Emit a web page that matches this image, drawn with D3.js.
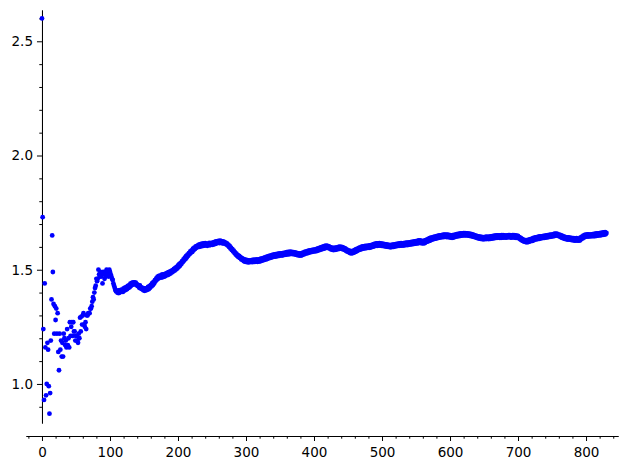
<!DOCTYPE html>
<html>
<head>
<meta charset="utf-8">
<script src="https://cdn.jsdelivr.net/npm/d3@7"></script>
<style>
    body { margin: 0; background: #fff; }
    text { font-family: "DejaVu Sans", sans-serif; }
</style>
</head>
<body>
<div></div>
<script>
// one value per step (step = array index)
var values = [
    2.60,1.73,1.24,0.93,1.44,1.16,0.95,1.00,1.18,1.15,
    0.99,0.87,0.96,1.19,1.37,1.65,1.49,1.35,1.22,1.34,
    1.28,1.33,1.22,1.31,1.14,1.06,1.22,1.15,1.19,1.12,
    1.18,1.12,1.22,1.20,1.17,1.19,1.16,1.24,1.17,1.20,
    1.16,1.27,1.21,1.25,1.27,1.21,1.27,1.23,1.23,1.19,
    1.21,1.21,1.19,1.18,1.22,1.20,1.29,1.23,1.295,1.26,
    1.30,1.31,1.26,1.25,1.27,1.24,1.30,1.30,1.31,1.31,
    1.31,1.33,1.33,1.34,1.36,1.38,1.37,1.40,1.42,1.43,
    1.46,1.45,1.46,1.50,1.48,1.47,1.49,1.47,1.48,1.44,
    1.49,1.48,1.46,1.49,1.47,1.50,1.48,1.49,1.47,1.50,
    1.49,1.48,1.47,1.46,1.455,1.44,1.43,1.42,1.41,1.405,
    1.407,1.399,1.409,1.398,1.410,1.401,1.412,1.404,1.413,1.403,
    1.418,1.409,1.421,1.411,1.424,1.415,1.429,1.420,1.431,1.423,
    1.439,1.430,1.442,1.434,1.445,1.436,1.444,1.437,1.443,1.432,
    1.436,1.428,1.432,1.421,1.431,1.418,1.423,1.415,1.420,1.410,
    1.418,1.408,1.417,1.410,1.419,1.412,1.425,1.415,1.428,1.421,
    1.434,1.427,1.441,1.432,1.447,1.440,1.454,1.449,1.462,1.456,
    1.470,1.461,1.473,1.465,1.474,1.466,1.478,1.467,1.479,1.469,
    1.481,1.471,1.483,1.476,1.486,1.477,1.489,1.480,1.492,1.483,
    1.495,1.488,1.498,1.492,1.504,1.496,1.508,1.501,1.512,1.505,
    1.519,1.512,1.526,1.517,1.530,1.525,1.538,1.533,1.545,1.540,
    1.553,1.546,1.560,1.554,1.566,1.561,1.573,1.568,1.580,1.574,
    1.585,1.578,1.592,1.585,1.597,1.591,1.602,1.596,1.604,1.599,
    1.609,1.600,1.611,1.602,1.613,1.603,1.614,1.605,1.615,1.606,
    1.616,1.607,1.613,1.605,1.614,1.608,1.617,1.607,1.616,1.610,
    1.617,1.609,1.620,1.611,1.622,1.613,1.624,1.616,1.625,1.618,
    1.626,1.617,1.627,1.618,1.625,1.616,1.624,1.615,1.622,1.614,
    1.618,1.610,1.615,1.606,1.610,1.600,1.604,1.593,1.597,1.586,
    1.590,1.580,1.584,1.573,1.576,1.566,1.570,1.560,1.564,1.555,
    1.560,1.551,1.555,1.545,1.551,1.542,1.547,1.537,1.545,1.535,
    1.543,1.534,1.542,1.532,1.541,1.533,1.540,1.534,1.542,1.533,
    1.543,1.535,1.544,1.534,1.543,1.536,1.545,1.535,1.544,1.536,
    1.546,1.537,1.548,1.539,1.550,1.541,1.552,1.543,1.554,1.545,
    1.556,1.547,1.558,1.550,1.560,1.551,1.562,1.553,1.564,1.555,
    1.566,1.557,1.567,1.558,1.568,1.559,1.569,1.560,1.570,1.561,
    1.571,1.563,1.572,1.562,1.573,1.564,1.574,1.565,1.575,1.566,
    1.577,1.568,1.578,1.567,1.578,1.569,1.579,1.569,1.577,1.568,
    1.577,1.568,1.576,1.566,1.574,1.564,1.573,1.563,1.572,1.562,
    1.570,1.562,1.573,1.564,1.575,1.567,1.578,1.570,1.579,1.572,
    1.581,1.573,1.583,1.575,1.585,1.577,1.586,1.578,1.587,1.580,
    1.588,1.580,1.589,1.581,1.591,1.583,1.593,1.585,1.595,1.587,
    1.598,1.589,1.600,1.591,1.602,1.593,1.604,1.595,1.605,1.596,
    1.604,1.595,1.602,1.593,1.599,1.589,1.597,1.587,1.595,1.586,
    1.595,1.587,1.597,1.588,1.598,1.590,1.600,1.591,1.601,1.592,
    1.600,1.591,1.599,1.589,1.596,1.586,1.593,1.583,1.589,1.579,
    1.585,1.576,1.583,1.573,1.581,1.572,1.581,1.573,1.583,1.575,
    1.587,1.578,1.590,1.581,1.592,1.585,1.596,1.587,1.598,1.589,
    1.601,1.592,1.602,1.593,1.603,1.594,1.604,1.595,1.604,1.596,
    1.605,1.596,1.606,1.597,1.608,1.599,1.610,1.601,1.612,1.603,
    1.614,1.605,1.615,1.605,1.615,1.606,1.616,1.606,1.615,1.605,
    1.614,1.604,1.613,1.603,1.612,1.602,1.611,1.601,1.610,1.600,
    1.609,1.599,1.608,1.598,1.609,1.600,1.610,1.600,1.611,1.602,
    1.612,1.603,1.613,1.604,1.614,1.605,1.615,1.606,1.616,1.606,
    1.615,1.606,1.616,1.607,1.617,1.608,1.618,1.608,1.618,1.609,
    1.620,1.610,1.621,1.611,1.622,1.612,1.623,1.613,1.624,1.614,
    1.625,1.615,1.626,1.616,1.628,1.618,1.628,1.617,1.626,1.616,
    1.625,1.615,1.627,1.617,1.629,1.621,1.632,1.623,1.635,1.626,
    1.638,1.628,1.640,1.631,1.642,1.633,1.644,1.635,1.645,1.636,
    1.647,1.638,1.648,1.639,1.650,1.641,1.650,1.642,1.651,1.643,
    1.653,1.643,1.653,1.644,1.654,1.643,1.653,1.643,1.652,1.642,
    1.651,1.641,1.650,1.640,1.651,1.641,1.652,1.643,1.654,1.645,
    1.656,1.646,1.657,1.647,1.658,1.648,1.659,1.649,1.659,1.650,
    1.660,1.650,1.660,1.651,1.659,1.650,1.659,1.649,1.658,1.648,
    1.657,1.647,1.656,1.645,1.654,1.644,1.651,1.642,1.649,1.640,
    1.647,1.638,1.646,1.636,1.645,1.635,1.644,1.634,1.643,1.633,
    1.643,1.634,1.644,1.634,1.645,1.635,1.644,1.634,1.645,1.635,
    1.646,1.636,1.647,1.637,1.648,1.638,1.649,1.639,1.650,1.640,
    1.650,1.641,1.650,1.640,1.650,1.640,1.651,1.641,1.651,1.641,
    1.650,1.641,1.649,1.641,1.650,1.642,1.651,1.643,1.651,1.641,
    1.650,1.641,1.651,1.642,1.651,1.641,1.650,1.640,1.649,1.639,
    1.648,1.638,1.643,1.633,1.639,1.629,1.635,1.626,1.632,1.623,
    1.630,1.621,1.630,1.620,1.629,1.621,1.632,1.623,1.634,1.626,
    1.635,1.626,1.638,1.629,1.640,1.632,1.642,1.633,1.643,1.634,
    1.645,1.635,1.646,1.637,1.646,1.638,1.647,1.639,1.648,1.640,
    1.649,1.641,1.650,1.642,1.651,1.643,1.652,1.644,1.653,1.645,
    1.654,1.646,1.656,1.647,1.658,1.649,1.658,1.650,1.657,1.648,
    1.654,1.645,1.652,1.642,1.650,1.639,1.647,1.637,1.645,1.635,
    1.643,1.633,1.642,1.632,1.641,1.632,1.640,1.631,1.639,1.630,
    1.638,1.629,1.638,1.628,1.637,1.628,1.638,1.628,1.636,1.628,
    1.636,1.628,1.641,1.633,1.645,1.637,1.649,1.641,1.652,1.644,
    1.654,1.645,1.655,1.645,1.655,1.646,1.654,1.646,1.655,1.647,
    1.656,1.647,1.657,1.647,1.658,1.648,1.659,1.649,1.659,1.650,
    1.660,1.651,1.661,1.652,1.662,1.653,1.663,1.654,1.664,1.655,
    1.661
];

var xTicks = [0, 100, 200, 300, 400, 500, 600, 700, 800];
var yTicks = [1.0, 1.5, 2.0, 2.5];
var xMinor = [-20, 20, 40, 60, 80, 120, 140, 160, 180, 220, 240, 260, 280, 320, 340, 360, 380,
    420, 440, 460, 480, 520, 540, 560, 580, 620, 640, 660, 680, 720, 740, 760, 780, 820, 840];
var yMinor = [0.9, 1.1, 1.2, 1.3, 1.4, 1.6, 1.7, 1.8, 1.9, 2.1, 2.2, 2.3, 2.4, 2.6];

var width = 628;
var height = 470;

var svg = d3.select('div')
    .append('svg')
    .attr('width', width)
    .attr('height', height);

var x = d3.scaleLinear().domain([-23.5, 847]).range([26, 618]);
var y = d3.scaleLinear().domain([0.829, 2.637]).range([423, 10]);

// bottom axis sits below the data, left axis at x = 0
var xAxisY = 436;

svg.append('g')
    .attr('transform', 'translate(0,' + xAxisY + ')')
    .call(d3.axisBottom(x).tickValues(xMinor).tickSize(2.7).tickSizeOuter(0).tickFormat(''));

var gx = svg.append('g')
    .attr('transform', 'translate(0,' + xAxisY + ')')
    .call(d3.axisBottom(x).tickValues(xTicks).tickSize(5).tickSizeOuter(0).tickPadding(6)
        .tickFormat(d3.format('d')));

svg.append('g')
    .attr('transform', 'translate(' + x(0) + ',0)')
    .call(d3.axisLeft(y).tickValues(yMinor).tickSize(2.7).tickSizeOuter(0).tickFormat(''));

var gy = svg.append('g')
    .attr('transform', 'translate(' + x(0) + ',0)')
    .call(d3.axisLeft(y).tickValues(yTicks).tickSize(5).tickSizeOuter(0).tickPadding(4)
        .tickFormat(d3.format('.1f')));

svg.selectAll('.tick text')
    .attr('font-family', '"DejaVu Sans", sans-serif')
    .attr('font-size', 13.5)
    .attr('fill', '#000');

svg.selectAll('.domain, .tick line').attr('stroke', '#000');

svg.append('g')
    .selectAll('circle')
    .data(values)
    .enter()
    .append('circle')
    .attr('cx', (d, i) => x(i))
    .attr('cy', (d) => y(d))
    .attr('r', 2.4)
    .attr('fill', '#0000ff');
</script>
</body>
</html>
